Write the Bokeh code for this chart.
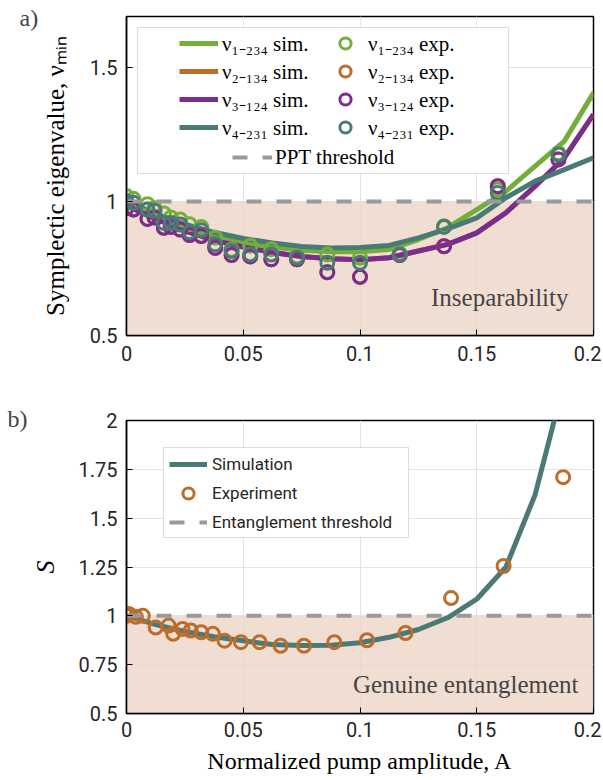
import math
from bokeh.plotting import figure
from bokeh.models import Range1d, FixedTicker, Label, BoxAnnotation, Legend, LegendItem
from bokeh.layouts import column
from bokeh.embed import file_html
from bokeh.resources import INLINE

# ---------------- data ----------------
A_sim = [0.0, 0.0125, 0.025, 0.0375, 0.05, 0.0625, 0.075, 0.0875, 0.1, 0.1125,
         0.125, 0.1375, 0.15, 0.1625, 0.175, 0.1875, 0.2]
nu1_sim = [1.0, 0.95, 0.905, 0.872, 0.848, 0.830, 0.818, 0.812, 0.812, 0.821,
           0.858, 0.902, 0.970, 1.038, 1.132, 1.225, 1.405]
nu2_sim = [0.985, 0.935, 0.89, 0.855, 0.83, 0.81, 0.795, 0.786, 0.783, 0.79,
           0.815, 0.840, 0.883, 0.958, 1.057, 1.163, 1.325]
nu3_sim = [0.985, 0.935, 0.89, 0.855, 0.83, 0.81, 0.795, 0.786, 0.783, 0.79,
           0.815, 0.840, 0.883, 0.958, 1.057, 1.163, 1.325]
nu4_sim = [1.0, 0.955, 0.915, 0.885, 0.862, 0.845, 0.832, 0.826, 0.828, 0.836,
           0.864, 0.898, 0.939, 1.014, 1.076, 1.119, 1.163]

A_exp_a = [0.0, 0.003, 0.009, 0.012, 0.016, 0.019, 0.023, 0.027, 0.032, 0.038,
           0.045, 0.053, 0.062, 0.073, 0.086, 0.1, 0.117, 0.136, 0.159, 0.185]
nu1_exp = [1.02, 1.01, 0.99, 0.975, 0.955, 0.94, 0.933, 0.915, 0.905, 0.865,
           0.82, 0.835, 0.822, 0.795, 0.802, 0.79, 0.805, 0.908, 1.045, 1.18]
nu2_exp = [0.975, 0.97, 0.935, 0.94, 0.902, 0.905, 0.895, 0.875, 0.871, 0.827,
           0.80, 0.795, 0.784, 0.784, 0.736, 0.719, 0.80, 0.833, 1.057, 1.157]
nu3_exp = [0.975, 0.97, 0.935, 0.94, 0.902, 0.905, 0.895, 0.875, 0.871, 0.827,
           0.80, 0.795, 0.784, 0.784, 0.736, 0.719, 0.80, 0.833, 1.057, 1.157]
nu4_exp = [1.0, 0.995, 0.97, 0.965, 0.92, 0.92, 0.914, 0.885, 0.893, 0.84,
           0.815, 0.802, 0.802, 0.79, 0.771, 0.771, 0.802, 0.905, 1.032, 1.175]

S_sim = [1.0, 0.955, 0.92, 0.893, 0.872, 0.853, 0.848, 0.85, 0.862, 0.89,
         0.93, 0.99, 1.085, 1.25, 1.62, 2.2, 3.0]
A_exp_b = [0.0, 0.001, 0.004, 0.007, 0.0125, 0.018, 0.020, 0.024, 0.0275, 0.032,
           0.037, 0.042, 0.049, 0.057, 0.066, 0.076, 0.089, 0.103, 0.1195, 0.139,
           0.1615, 0.187]
S_exp = [1.0, 1.01, 0.995, 1.0, 0.94, 0.95, 0.908, 0.933, 0.925, 0.916,
         0.908, 0.873, 0.865, 0.865, 0.847, 0.847, 0.865, 0.875, 0.912, 1.091,
         1.255, 1.71]

threshold = 1.0
x_ticks = [0, 0.05, 0.1, 0.15, 0.2]
x_tick_labels = ["0", "0.05", "0.1", "0.15", "0.2"]
ya_ticks = [0.5, 1, 1.5]
ya_tick_labels = ["0.5", "1", "1.5"]
yb_ticks = [0.5, 0.75, 1, 1.25, 1.5, 1.75, 2]
yb_tick_labels = ["0.5", "0.75", "1", "1.25", "1.5", "1.75", "2"]

# ---------------- style ----------------
GREEN = "#74AE3A"
ORANGE = "#BC6C2B"
PURPLE = "#7B2D8E"
TEAL = "#4A7A75"
GRAY = "#9a9a9a"
SHADE = "#EED6C7"
SERIF = "Liberation Serif"
SANS = "Roboto"

FRAME_L = 126
FRAME_W = 467


def style(p, yticks, ylabels, xstand):
    p.xaxis.ticker = FixedTicker(ticks=x_ticks)
    p.yaxis.ticker = FixedTicker(ticks=yticks)
    p.xgrid.ticker = FixedTicker(ticks=x_ticks)
    p.ygrid.ticker = FixedTicker(ticks=yticks)
    p.xaxis.major_label_overrides = {t: l for t, l in zip(x_ticks, x_tick_labels)}
    p.yaxis.major_label_overrides = {t: l for t, l in zip(yticks, ylabels)}
    for ax in (p.xaxis, p.yaxis):
        ax.major_tick_in = 6
        ax.major_tick_out = 0
        ax.minor_tick_line_color = None
        ax.axis_line_color = "black"
        ax.axis_line_width = 1.5
        ax.major_tick_line_color = "black"
        ax.major_label_text_font = SANS
        ax.major_label_text_font_size = "20px"
        ax.major_label_text_color = "#262626"
        ax.axis_label_text_font = SERIF
        ax.axis_label_text_color = "black"
    p.xaxis.major_label_standoff = xstand
    p.yaxis.major_label_standoff = 9
    p.grid.grid_line_color = "#e4e4e4"
    p.grid.grid_line_width = 1
    p.outline_line_color = "black"
    p.outline_line_width = 1.5
    p.background_fill_color = "white"
    p.border_fill_color = "white"


def lab(p, text, px, py, frame_bottom, size, **kw):
    p.add_layout(Label(x=px - FRAME_L, y=frame_bottom - py, x_units="screen", y_units="screen",
                       text=text, text_font_size=size, **kw))


# ---------------- panel a ----------------
pa = figure(frame_width=FRAME_W, frame_height=319, min_border_left=126, min_border_right=8,
            min_border_top=16, min_border_bottom=36, x_range=Range1d(0, 0.2),
            y_range=Range1d(0.5, 1.69), output_backend="svg", toolbar_location=None)
style(pa, ya_ticks, ya_tick_labels, 10)
pa.yaxis.axis_label = "Symplectic eigenvalue, νₘᵢₙ"
pa.yaxis.axis_label_text_font_size = "25px"
pa.yaxis.axis_label_text_font_style = "normal"
pa.yaxis.axis_label_standoff = 18
pa.add_layout(BoxAnnotation(top=threshold, fill_color=SHADE, fill_alpha=0.8, line_alpha=0,
                            level="underlay"))

LW = 5
r1 = pa.line(A_sim, nu1_sim, line_color=GREEN, line_width=LW)
r2 = pa.line(A_sim, nu2_sim, line_color=ORANGE, line_width=LW)
r3 = pa.line(A_sim, nu3_sim, line_color=PURPLE, line_width=LW)
r4 = pa.line(A_sim, nu4_sim, line_color=TEAL, line_width=LW)
e1 = pa.scatter(A_exp_a, nu1_exp, size=13, fill_color=None, line_color=GREEN, line_width=3)
e2 = pa.scatter(A_exp_a, nu2_exp, size=13, fill_color=None, line_color=ORANGE, line_width=3)
e3 = pa.scatter(A_exp_a, nu3_exp, size=13, fill_color=None, line_color=PURPLE, line_width=3)
e4 = pa.scatter(A_exp_a, nu4_exp, size=13, fill_color=None, line_color=TEAL, line_width=3)
ta = pa.line([x_ticks[0], x_ticks[-1]], [threshold, threshold], line_color=GRAY,
             line_width=4, line_dash="15 15")

FB_A = 335
pa.add_layout(BoxAnnotation(left=137 - FRAME_L, right=508 - FRAME_L, top=FB_A - 27,
                            bottom=FB_A - 173, left_units="screen", right_units="screen",
                            top_units="screen", bottom_units="screen", fill_color="white",
                            fill_alpha=1, line_color="#8c8c8c", line_width=1))
common = dict(padding=0, margin=0, border_line_alpha=0, background_fill_alpha=0,
              label_text_font=SERIF, label_text_font_size="21px", label_text_color="black",
              glyph_height=28, label_height=28, spacing=0)
leg1 = Legend(items=[LegendItem(label="ν₁₋₂₃₄ sim.", renderers=[r1]),
                     LegendItem(label="ν₂₋₁₃₄ sim.", renderers=[r2]),
                     LegendItem(label="ν₃₋₁₂₄ sim.", renderers=[r3]),
                     LegendItem(label="ν₄₋₂₃₁ sim.", renderers=[r4])],
              location=(179 - FRAME_L, FB_A - 141), glyph_width=39, label_standoff=4,
              **common)
leg2 = Legend(items=[LegendItem(label="ν₁₋₂₃₄ exp.", renderers=[e1]),
                     LegendItem(label="ν₂₋₁₃₄ exp.", renderers=[e2]),
                     LegendItem(label="ν₃₋₁₂₄ exp.", renderers=[e3]),
                     LegendItem(label="ν₄₋₂₃₁ exp.", renderers=[e4])],
              location=(331 - FRAME_L, FB_A - 141), glyph_width=28, label_standoff=9,
              **common)
leg3 = Legend(items=[LegendItem(label="PPT threshold", renderers=[ta])],
              location=(232 - FRAME_L, FB_A - 171), glyph_width=40, label_standoff=3,
              **common)
for lg in (leg1, leg2, leg3):
    pa.add_layout(lg)

pa.add_layout(Label(x=0, y=FB_A - 17, x_units="screen", y_units="screen", text="a)",
                    text_font=SERIF, text_font_size="24px", text_baseline="middle",
                    text_align="left"), "left")
lab(pa, "Inseparability", 568, 297, FB_A, "25px", text_font=SERIF, text_baseline="middle",
    text_align="right")

# ---------------- panel b ----------------
pb = figure(frame_width=FRAME_W, frame_height=293, min_border_left=126, min_border_right=8,
            min_border_top=49, min_border_bottom=66, x_range=Range1d(0, 0.2),
            y_range=Range1d(0.5, 2.0), output_backend="svg", toolbar_location=None)
style(pb, yb_ticks, yb_tick_labels, 8)
pb.yaxis.axis_label = "S"
pb.yaxis.axis_label_text_font_size = "26px"
pb.yaxis.axis_label_text_font_style = "italic"
pb.yaxis.axis_label_standoff = 16
pb.xaxis.axis_label = "Normalized pump amplitude, A"
pb.xaxis.axis_label_text_font_size = "24px"
pb.xaxis.axis_label_text_font_style = "normal"
pb.xaxis.axis_label_standoff = 8
pb.add_layout(BoxAnnotation(top=threshold, fill_color=SHADE, fill_alpha=0.8, line_alpha=0,
                            level="underlay"))
rs = pb.line(A_sim, S_sim, line_color=TEAL, line_width=LW)
es = pb.scatter(A_exp_b, S_exp, size=13, fill_color=None, line_color=ORANGE, line_width=3)
tb = pb.line([x_ticks[0], x_ticks[-1]], [threshold, threshold], line_color=GRAY,
             line_width=4, line_dash="15 15")

FB_B = 714
pb.add_layout(BoxAnnotation(left=163 - FRAME_L, right=408 - FRAME_L, top=FB_B - 448,
                            bottom=FB_B - 538, left_units="screen", right_units="screen",
                            top_units="screen", bottom_units="screen", fill_color="white",
                            fill_alpha=1, line_color="#8c8c8c", line_width=1))
legb = Legend(items=[LegendItem(label="Simulation", renderers=[rs]),
                     LegendItem(label="Experiment", renderers=[es]),
                     LegendItem(label="Entanglement threshold", renderers=[tb])],
              location=(169 - FRAME_L, FB_B - 537), glyph_width=38, glyph_height=28,
              label_height=28, spacing=1, label_standoff=5, padding=0, margin=0,
              border_line_alpha=0, background_fill_alpha=0, label_text_font=SANS,
              label_text_font_size="17px", label_text_color="#262626")
pb.add_layout(legb)

pb.add_layout(Label(x=0, y=FB_B - 419, x_units="screen", y_units="screen", text="b)",
                    text_font=SERIF, text_font_size="24px", text_baseline="middle",
                    text_align="left"), "left")
lab(pb, "Genuine entanglement", 578, 685, FB_B, "25px", text_font=SERIF,
    text_baseline="middle", text_align="right")

layout = column(pa, pb, spacing=0)
open("out.html", "w").write(file_html(layout, INLINE))
